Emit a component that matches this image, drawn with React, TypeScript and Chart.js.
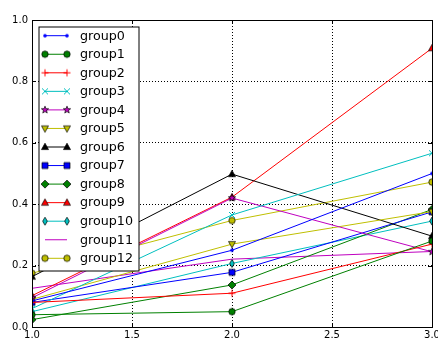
import React, { useEffect, useRef } from "react";
import { Chart, registerables } from "chart.js";

Chart.register(...registerables);

const xValues = [1, 2, 3];
const groupNames = [
  "group0", "group1", "group2", "group3", "group4", "group5", "group6",
  "group7", "group8", "group9", "group10", "group11", "group12",
];
const group0 = [0.085, 0.25, 0.5];
const group1 = [0.04, 0.05, 0.28];
const group2 = [0.08, 0.11, 0.27];
const group3 = [0.06, 0.365, 0.566];
const group4 = [0.095, 0.42, 0.245];
const group5 = [0.09, 0.27, 0.376];
const group6 = [0.164, 0.498, 0.296];
const group7 = [0.08, 0.178, 0.375];
const group8 = [0.024, 0.137, 0.383];
const group9 = [0.102, 0.423, 0.908];
const group10 = [0.05, 0.207, 0.345];
const group11 = [0.126, 0.221, 0.246];
const group12 = [0.175, 0.347, 0.472];
const seriesValues = [group0, group1, group2, group3, group4, group5, group6, group7, group8, group9, group10, group11, group12];
const colors = ["#0000ff", "#008000", "#ff0000", "#00bfbf", "#bf00bf", "#bfbf00", "#000000", "#0000ff", "#008000", "#ff0000", "#00bfbf", "#bf00bf", "#bfbf00"];
const markers = ["point", "circle", "plus", "x", "star", "tri_down", "tri_up", "square", "diamond", "tri_up", "thin_diamond", "none", "circle"];
const xTicks = [1, 1.5, 2, 2.5, 3];
const yTicks = [0, 0.2, 0.4, 0.6, 0.8, 1.0];

const FONT = "DejaVu Sans";

function makeMarker(kind: string, color: string): HTMLCanvasElement {
  const c = document.createElement("canvas");
  c.width = 14;
  c.height = 14;
  const ctx = c.getContext("2d")!;
  const cx = 7, cy = 7;
  ctx.lineJoin = "miter";
  ctx.fillStyle = color;
  ctx.strokeStyle = "#000";
  ctx.lineWidth = 0.7;
  const poly = (pts: number[][]) => {
    ctx.beginPath();
    pts.forEach((p, i) => (i ? ctx.lineTo(cx + p[0], cy + p[1]) : ctx.moveTo(cx + p[0], cy + p[1])));
    ctx.closePath();
    ctx.fill();
    ctx.stroke();
  };
  switch (kind) {
    case "point":
      ctx.beginPath();
      ctx.arc(cx, cy, 1.8, 0, Math.PI * 2);
      ctx.fill();
      break;
    case "circle":
      ctx.beginPath();
      ctx.arc(cx, cy, 3.2, 0, Math.PI * 2);
      ctx.fill();
      ctx.stroke();
      break;
    case "plus":
      ctx.strokeStyle = color;
      ctx.lineWidth = 1;
      ctx.beginPath();
      ctx.moveTo(cx - 3.5, cy);
      ctx.lineTo(cx + 3.5, cy);
      ctx.moveTo(cx, cy - 3.5);
      ctx.lineTo(cx, cy + 3.5);
      ctx.stroke();
      break;
    case "x":
      ctx.strokeStyle = color;
      ctx.lineWidth = 1;
      ctx.beginPath();
      ctx.moveTo(cx - 3, cy - 3);
      ctx.lineTo(cx + 3, cy + 3);
      ctx.moveTo(cx - 3, cy + 3);
      ctx.lineTo(cx + 3, cy - 3);
      ctx.stroke();
      break;
    case "star": {
      const pts: number[][] = [];
      for (let i = 0; i < 10; i++) {
        const r = i % 2 === 0 ? 3.8 : 1.6;
        const a = -Math.PI / 2 + (i * Math.PI) / 5;
        pts.push([r * Math.cos(a), r * Math.sin(a)]);
      }
      poly(pts);
      break;
    }
    case "tri_up":
      poly([[0, -3.8], [3.5, 2.6], [-3.5, 2.6]]);
      break;
    case "tri_down":
      poly([[0, 3.8], [3.5, -2.6], [-3.5, -2.6]]);
      break;
    case "square":
      poly([[-3, -3], [3, -3], [3, 3], [-3, 3]]);
      break;
    case "diamond":
      poly([[0, -4], [4, 0], [0, 4], [-4, 0]]);
      break;
    case "thin_diamond":
      poly([[0, -4], [2.4, 0], [0, 4], [-2.4, 0]]);
      break;
  }
  return c;
}

const framePlugin = {
  id: "mplFrame",
  afterDraw(chart: any) {
    const { ctx, chartArea } = chart;
    const { left, right, top, bottom } = chartArea;
    const xs = chart.scales.x;
    const ys = chart.scales.y;
    ctx.save();
    ctx.strokeStyle = "#000";
    ctx.lineWidth = 1;
    ctx.beginPath();
    xTicks.forEach((v) => {
      const px = Math.round(xs.getPixelForValue(v)) + 0.5;
      ctx.moveTo(px, bottom);
      ctx.lineTo(px, bottom - 4);
      ctx.moveTo(px, top);
      ctx.lineTo(px, top + 4);
    });
    yTicks.forEach((v) => {
      const py = Math.round(ys.getPixelForValue(v)) + 0.5;
      ctx.moveTo(left, py);
      ctx.lineTo(left + 4, py);
      ctx.moveTo(right, py);
      ctx.lineTo(right - 4, py);
    });
    ctx.stroke();
    ctx.strokeRect(Math.round(left) + 0.5, Math.round(top) + 0.5, Math.round(right - left), Math.round(bottom - top));

    // legend
    const lx = 39, ly = 27, lw = 100, lh = 244;
    ctx.fillStyle = "#fff";
    ctx.fillRect(lx, ly, lw, lh);
    ctx.strokeStyle = "#000";
    ctx.lineWidth = 1;
    ctx.strokeRect(lx, ly, lw, lh);
    ctx.font = `12.7px "${FONT}"`;
    ctx.textBaseline = "middle";
    ctx.textAlign = "left";
    chart.data.datasets.forEach((ds: any, i: number) => {
      const y = 35.7 + 18.55 * i;
      ctx.strokeStyle = ds.borderColor;
      ctx.lineWidth = 1;
      ctx.beginPath();
      ctx.moveTo(45, y);
      ctx.lineTo(67, y);
      ctx.stroke();
      if (ds.pointRadius > 0 && ds.pointStyle) {
        const img = ds.pointStyle as HTMLCanvasElement;
        ctx.drawImage(img, 45 - img.width / 2, y - img.height / 2);
        ctx.drawImage(img, 67 - img.width / 2, y - img.height / 2);
      }
      ctx.fillStyle = "#000";
      ctx.fillText(ds.label, 80, y + 0.5);
    });
    ctx.restore();
  },
};

export default function App() {
  const ref = useRef<HTMLCanvasElement>(null);
  useEffect(() => {
    document.body.style.margin = "0";
    const datasets = groupNames.map((name, i) => ({
      label: name,
      data: xValues.map((x, j) => ({ x, y: seriesValues[i][j] })),
      borderColor: colors[i],
      backgroundColor: colors[i],
      borderWidth: 1,
      pointStyle: markers[i] === "none" ? false : makeMarker(markers[i], colors[i]),
      pointRadius: markers[i] === "none" ? 0 : 3,
      pointHoverRadius: 0,
      tension: 0,
      clip: 0,
      fill: false,
    }));
    const chart = new Chart(ref.current!, {
      type: "line",
      data: { datasets },
      options: {
        animation: false,
        responsive: false,
        devicePixelRatio: 1,
        events: [],
        layout: { padding: { left: 0, right: 6, top: 20, bottom: 0 } },
        plugins: { legend: { display: false }, tooltip: { enabled: false } },
        scales: {
          x: {
            type: "linear",
            min: 1,
            max: 3,
            afterBuildTicks: (s: any) => {
              s.ticks = xTicks.map((v) => ({ value: v }));
            },
            afterFit: (s: any) => {
              s.height = 14;
              s.paddingLeft = 0;
              s.paddingRight = 0;
            },
            ticks: {
              color: "#000",
              font: { family: FONT, size: 10 },
              padding: 2,
              maxRotation: 0,
              autoSkip: false,
              callback: (v: any) => Number(v).toFixed(1),
            },
            grid: { color: "#000", lineWidth: 1, drawTicks: false },
            border: { display: false, dash: [1, 2] },
          },
          y: {
            type: "linear",
            min: 0,
            max: 1,
            afterBuildTicks: (s: any) => {
              s.ticks = yTicks.map((v) => ({ value: v }));
            },
            afterFit: (s: any) => {
              s.width = 32;
              s.paddingTop = 0;
              s.paddingBottom = 0;
            },
            ticks: {
              color: "#000",
              font: { family: FONT, size: 10 },
              padding: 4,
              autoSkip: false,
              callback: (v: any) => Number(v).toFixed(1),
            },
            grid: { color: "#000", lineWidth: 1, drawTicks: false },
            border: { display: false, dash: [1, 2] },
          },
        },
      },
      plugins: [framePlugin],
    } as any);
    return () => chart.destroy();
  }, []);
  return (
    <div style={{ width: 438, height: 341 }}>
      <canvas ref={ref} width={438} height={341} style={{ display: "block" }} />
    </div>
  );
}
